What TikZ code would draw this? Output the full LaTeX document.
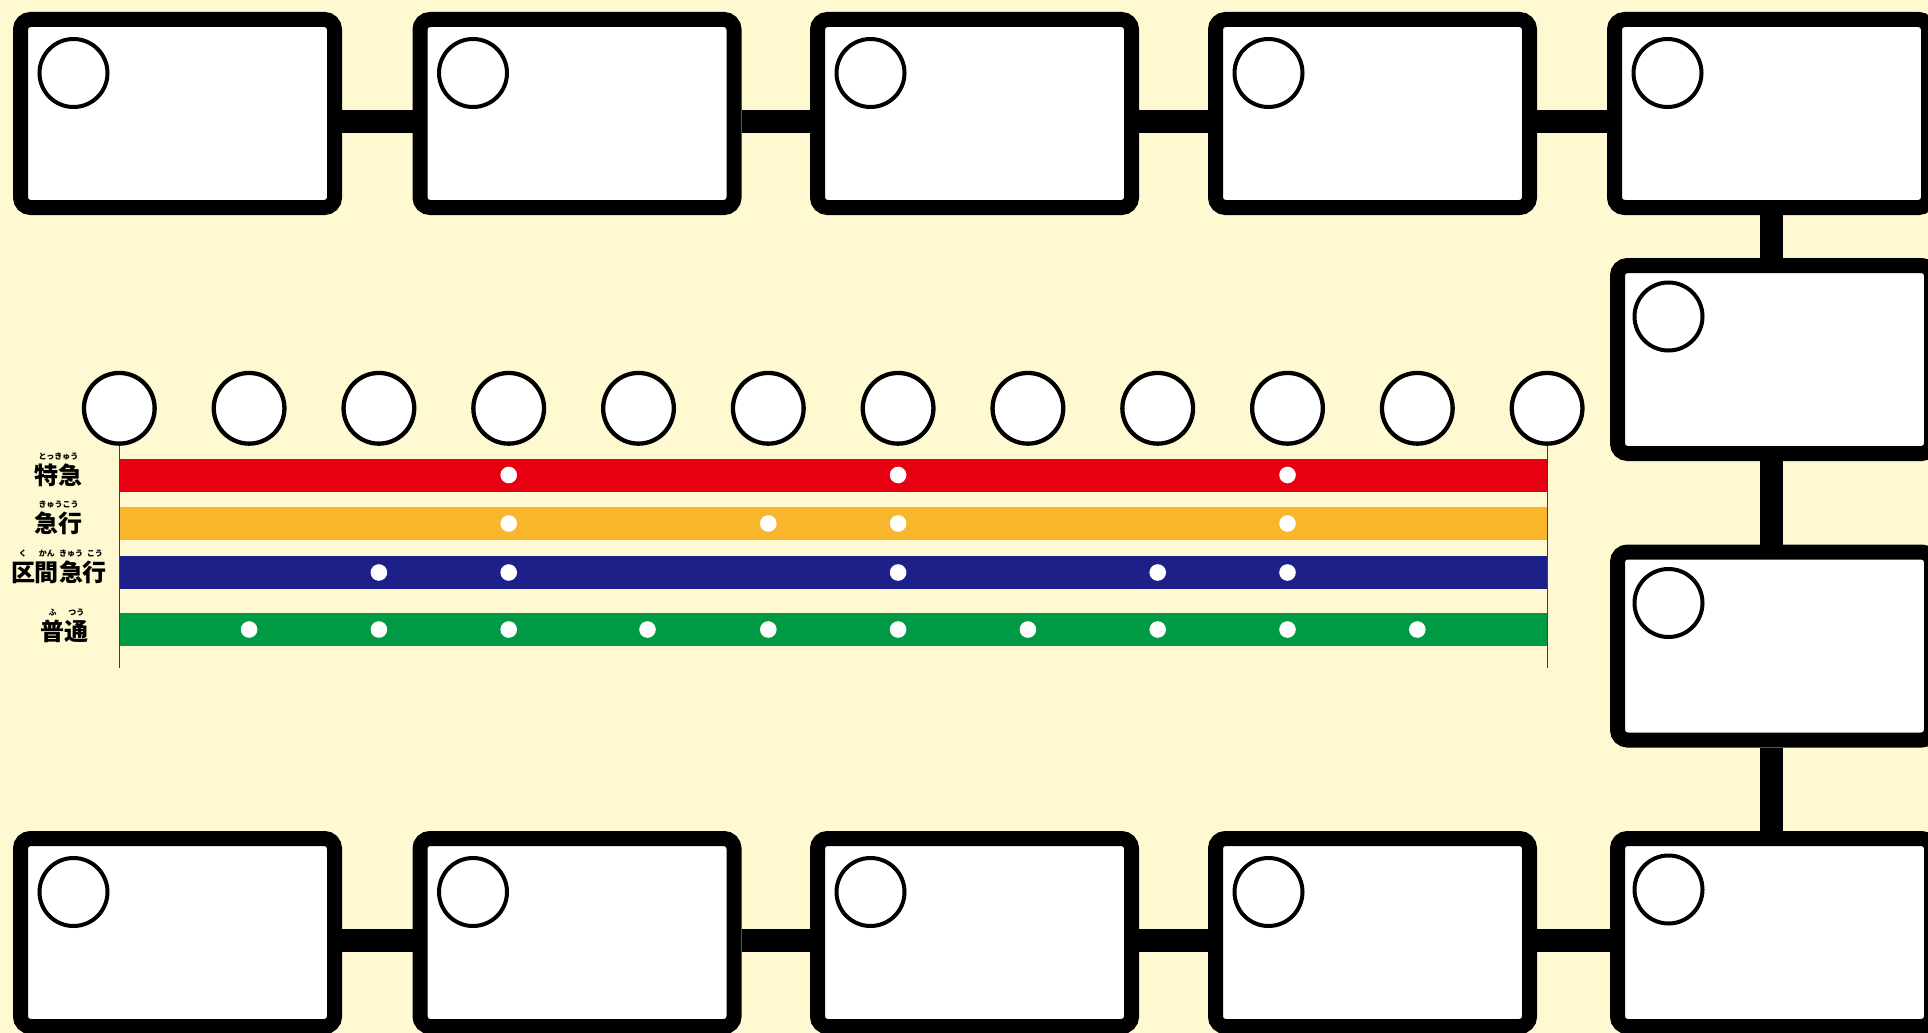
\documentclass[tikz,border=0pt]{standalone}
\usepackage{fontspec}
\newfontfamily\cjk{Noto Sans CJK JP}
\usetikzlibrary{positioning}
\definecolor{bgyellow}{HTML}{FFF9D1}
\definecolor{tkred}{HTML}{E60012}
\definecolor{kyorange}{HTML}{F8B62D}
\definecolor{kkblue}{HTML}{1D2088}
\definecolor{fpgreen}{HTML}{009944}
% kana set small and centred above its kanji
\newcommand{\furi}[2]{\ooalign{#1\cr\hidewidth\raisebox{25pt}{\fontsize{8}{9}\selectfont#2}\hidewidth\cr}}

\begin{document}
\begin{tikzpicture}[x=1pt,y=-1pt,
  stnbox/.style={draw=black,line width=15pt,fill=white,rounded corners=10pt,
    minimum width=314pt,minimum height=188pt,inner sep=0pt,outer sep=7.5pt},
  boxmark/.style={circle,draw=black,line width=4pt,fill=white,minimum size=68pt,inner sep=0pt},
  stop/.style={circle,draw=black,line width=4.3pt,fill=white,minimum size=70.7pt,inner sep=0pt},
  link/.style={line width=23pt,black},
  svcbar/.style={line width=33pt},
  guide/.style={line width=1.2pt,black!75},
  svclabel/.style={anchor=base,inner sep=0pt,font=\cjk\bfseries\fontsize{24}{26}\selectfont}]
\useasboundingbox (0,0) rectangle (1928,1033);
\fill[bgyellow] (0,0) rectangle (1928,1033);

% station boxes
\node[stnbox] (t1) at (177.5,113.5) {};
\node[stnbox] (t2) at (577,113.5) {};
\node[stnbox] (t3) at (974.5,113.5) {};
\node[stnbox] (t4) at (1372.5,113.5) {};
\node[stnbox] (t5) at (1771.5,113.5) {};
\node[stnbox] (r1) at (1774.5,359.5) {};
\node[stnbox] (r2) at (1774.5,646) {};
\node[stnbox] (b1) at (177.5,932.5) {};
\node[stnbox] (b2) at (577,932.5) {};
\node[stnbox] (b3) at (974.5,932.5) {};
\node[stnbox] (b4) at (1372.5,932.5) {};
\node[stnbox] (b5) at (1774.5,932.5) {};
\foreach \b in {t1,t2,t3,t4,t5,b1,b2,b3,b4}
  \node[boxmark] (\b m) at ([shift={(60.5,61)}]\b.north west) {};
\foreach \b in {r1,r2,b5}
  \node[boxmark] (\b m) at ([shift={(58.5,58.5)}]\b.north west) {};

% links between boxes
\foreach \a/\b in {t1/t2,t2/t3,t3/t4,t4/t5,b1/b2,b2/b3,b3/b4,b4/b5}
  \draw[link] ([yshift=-7.5pt]\a.east) -- ([yshift=-7.5pt]\b.west);
\draw[link] (t5.south) -- (t5.south |- r1.north);
\draw[link] (r1.south -| t5.south) -- (r2.north -| t5.south);
\draw[link] (r2.south -| t5.south) -- (b5.north -| t5.south);

% stops
\foreach \i in {1,...,12}
  \node[stop] (s\i) at ({119.3+129.8*(\i-1)},408.3) {};
\coordinate (tkrow) at (0,475);
\coordinate (kyrow) at (0,523.5);
\coordinate (kkrow) at (0,572.5);
\coordinate (fprow) at (0,629.5);
\coordinate (guideend) at (0,668);

% service bars
\draw[svcbar,tkred] (s1 |- tkrow) -- (s12 |- tkrow);
\draw[svcbar,kyorange] (s1 |- kyrow) -- (s12 |- kyrow);
\draw[svcbar,kkblue] (s1 |- kkrow) -- (s12 |- kkrow);
\draw[svcbar,fpgreen] (s1 |- fprow) -- (s12 |- fprow);
\draw[guide] (s1.south) -- (s1 |- guideend);
\draw[guide] (s12.south) -- (s12 |- guideend);

% halts
\foreach \i in {4,7,10}
  \fill[white] (s\i |- tkrow) circle (8.3pt);
\foreach \i in {4,6,7,10}
  \fill[white] (s\i |- kyrow) circle (8.3pt);
\foreach \i in {3,4,7,9,10}
  \fill[white] (s\i |- kkrow) circle (8.3pt);
\foreach \i in {2,3,4,6,7,8,9,10,11}
  \fill[white] (s\i |- fprow) circle (8.3pt);
\fill[white] ([xshift=9pt]s5 |- fprow) circle (8.3pt);

% service names
\node[svclabel] (tklabel) at (58.5,484.5) {\furi{特急}{とっきゅう}};
\node[svclabel] (kylabel) at (58.5,532.5) {\furi{急行}{きゅうこう}};
\node[svclabel] (kklabel) at (59,581) {\furi{区}{く}\furi{間}{かん}\furi{急}{きゅう}\furi{行}{こう}};
\node[svclabel] (fplabel) at (64.5,640) {\furi{普}{ふ}\furi{通}{つう}};
\end{tikzpicture}
\end{document}
